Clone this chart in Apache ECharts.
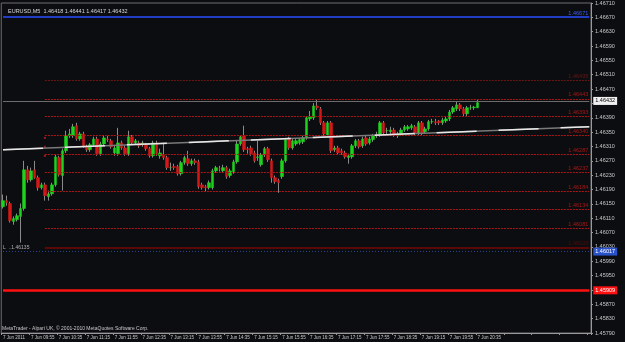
<!DOCTYPE html>
<html>
<head>
<meta charset="utf-8">
<script src="https://cdn.jsdelivr.net/npm/echarts@6.0.0/dist/echarts.min.js"></script>
<style>
  html, body { margin: 0; padding: 0; background: #0c0d10; }
  #chart { width: 625px; height: 342px; }
</style>
</head>
<body>
<div id="chart"></div>
<script>
// EURUSD M5, 7 Jun 2011 09:15 .. 20:35 (137 bars)
const opens = [
  1.46142,1.46159,1.46151,1.46101,1.46106,1.46115,1.46137,1.46245,1.46217,1.46245,
  1.46223,1.46195,1.46203,1.46170,1.46178,1.46203,1.46279,1.46229,1.46298,1.46340,
  1.46340,1.46368,1.46331,1.46345,1.46309,1.46301,1.46315,1.46331,1.46290,1.46317,
  1.46331,1.46326,1.46292,1.46290,1.46320,1.46306,1.46290,1.46337,1.46320,1.46320,
  1.46315,1.46315,1.46304,1.46284,1.46320,1.46284,1.46287,1.46279,1.46251,1.46254,
  1.46254,1.46234,1.46265,1.46276,1.46262,1.46270,1.46267,1.46203,1.46198,1.46195,
  1.46195,1.46242,1.46248,1.46242,1.46251,1.46229,1.46240,1.46267,1.46317,1.46340,
  1.46304,1.46306,1.46292,1.46279,1.46259,1.46287,1.46304,1.46270,1.46223,1.46215,
  1.46226,1.46270,1.46331,1.46306,1.46317,1.46320,1.46323,1.46334,1.46387,1.46390,
  1.46423,1.46415,1.46376,1.46342,1.46376,1.46301,1.46306,1.46298,1.46292,1.46279,
  1.46281,1.46312,1.46326,1.46312,1.46334,1.46320,1.46329,1.46340,1.46342,1.46376,
  1.46354,1.46351,1.46356,1.46340,1.46345,1.46356,1.46359,1.46362,1.46365,1.46348,
  1.46376,1.46351,1.46359,1.46379,1.46379,1.46381,1.46376,1.46381,1.46387,1.46406,
  1.46415,1.46426,1.46415,1.46401,1.46418,1.46418,1.46418
];
const closes = [
  1.46159,1.46154,1.46103,1.46109,1.46117,1.46137,1.46245,1.46217,1.46242,1.46223,
  1.46195,1.46203,1.46173,1.46178,1.46203,1.46281,1.46231,1.46298,1.46340,1.46345,
  1.46365,1.46331,1.46345,1.46312,1.46301,1.46315,1.46331,1.46290,1.46317,1.46334,
  1.46329,1.46309,1.46306,1.46320,1.46306,1.46290,1.46337,1.46320,1.46326,1.46312,
  1.46320,1.46304,1.46284,1.46320,1.46290,1.46292,1.46279,1.46251,1.46251,1.46251,
  1.46234,1.46265,1.46279,1.46262,1.46270,1.46265,1.46198,1.46195,1.46195,1.46209,
  1.46242,1.46251,1.46248,1.46251,1.46226,1.46242,1.46267,1.46317,1.46337,1.46301,
  1.46301,1.46290,1.46270,1.46281,1.46287,1.46304,1.46273,1.46223,1.46212,1.46209,
  1.46270,1.46329,1.46306,1.46326,1.46326,1.46329,1.46334,1.46390,1.46393,1.46423,
  1.46418,1.46376,1.46345,1.46376,1.46298,1.46306,1.46292,1.46292,1.46281,1.46284,
  1.46312,1.46326,1.46309,1.46331,1.46317,1.46331,1.46340,1.46342,1.46376,1.46348,
  1.46354,1.46356,1.46342,1.46345,1.46356,1.46365,1.46365,1.46368,1.46348,1.46376,
  1.46348,1.46359,1.46379,1.46379,1.46376,1.46376,1.46384,1.46387,1.46406,1.46418,
  1.46426,1.46415,1.46401,1.46418,1.46418,1.46420,1.46432
];
const lows = [
  1.46137,1.46145,1.46098,1.46092,1.46101,1.46042,1.46131,1.46209,1.46212,1.46220,
  1.46187,1.46190,1.46159,1.46159,1.46173,1.46198,1.46226,1.46187,1.46292,1.46334,
  1.46334,1.46326,1.46326,1.46306,1.46295,1.46295,1.46309,1.46284,1.46284,1.46312,
  1.46323,1.46304,1.46284,1.46284,1.46301,1.46284,1.46284,1.46315,1.46315,1.46306,
  1.46309,1.46298,1.46279,1.46279,1.46284,1.46276,1.46273,1.46245,1.46242,1.46245,
  1.46229,1.46229,1.46259,1.46256,1.46256,1.46259,1.46192,1.46190,1.46184,1.46190,
  1.46190,1.46237,1.46240,1.46237,1.46220,1.46223,1.46234,1.46262,1.46312,1.46295,
  1.46290,1.46284,1.46265,1.46270,1.46254,1.46281,1.46267,1.46209,1.46206,1.46181,
  1.46220,1.46265,1.46301,1.46301,1.46312,1.46315,1.46317,1.46329,1.46381,1.46384,
  1.46412,1.46370,1.46340,1.46337,1.46292,1.46295,1.46287,1.46287,1.46276,1.46262,
  1.46276,1.46306,1.46304,1.46306,1.46312,1.46315,1.46323,1.46334,1.46337,1.46342,
  1.46345,1.46345,1.46337,1.46334,1.46340,1.46351,1.46354,1.46356,1.46342,1.46342,
  1.46342,1.46345,1.46354,1.46373,1.46370,1.46370,1.46370,1.46376,1.46381,1.46401,
  1.46409,1.46409,1.46395,1.46395,1.46412,1.46412,1.46417
];
const highs = [
  1.46176,1.46173,1.46156,1.46115,1.46123,1.46151,1.46270,1.46256,1.46251,1.46270,
  1.46229,1.46209,1.46209,1.46187,1.46209,1.46287,1.46284,1.46304,1.46354,1.46359,
  1.46373,1.46376,1.46351,1.46351,1.46315,1.46320,1.46337,1.46337,1.46323,1.46342,
  1.46340,1.46331,1.46312,1.46362,1.46326,1.46312,1.46354,1.46342,1.46331,1.46326,
  1.46326,1.46320,1.46309,1.46326,1.46326,1.46304,1.46320,1.46284,1.46265,1.46262,
  1.46259,1.46270,1.46284,1.46298,1.46276,1.46276,1.46273,1.46209,1.46203,1.46215,
  1.46248,1.46256,1.46256,1.46259,1.46256,1.46248,1.46273,1.46326,1.46342,1.46368,
  1.46309,1.46312,1.46298,1.46326,1.46292,1.46309,1.46309,1.46276,1.46229,1.46220,
  1.46276,1.46334,1.46337,1.46331,1.46331,1.46334,1.46340,1.46395,1.46409,1.46431,
  1.46440,1.46420,1.46381,1.46381,1.46381,1.46312,1.46312,1.46304,1.46298,1.46290,
  1.46317,1.46331,1.46331,1.46337,1.46340,1.46337,1.46345,1.46351,1.46381,1.46381,
  1.46362,1.46365,1.46362,1.46351,1.46362,1.46370,1.46370,1.46373,1.46370,1.46381,
  1.46381,1.46365,1.46384,1.46387,1.46387,1.46384,1.46390,1.46393,1.46412,1.46423,
  1.46434,1.46431,1.46420,1.46423,1.46426,1.46423,1.46441
];

// time labels, one every 8 bars (40 min)
const tickLabels = [
  '7 Jun 2011','7 Jun 09:55','7 Jun 10:35','7 Jun 11:15','7 Jun 11:55','7 Jun 12:35',
  '7 Jun 13:15','7 Jun 13:55','7 Jun 14:35','7 Jun 15:15','7 Jun 15:55','7 Jun 16:35',
  '7 Jun 17:15','7 Jun 17:55','7 Jun 18:35','7 Jun 19:15','7 Jun 19:55','7 Jun 20:35'
];

// horizontal objects drawn on the chart
const blueLevel = 1.46671;
const dimLevel = 1.46495;
const redLevels = [1.46443, 1.46393, 1.46340, 1.46287, 1.46237, 1.46184, 1.46134, 1.46081];
const maroonLevel = 1.46028;
const bidLevel = 1.46437;
const lowBlueLevel = 1.46017;
const redThick = 1.45909;
const trendStart = [0, 1.46301];
const trendEnd = [168, 1.46365];
const markerTicks = [1.46334, 1.46309, 1.46284]; // little red marks at bar 12

const totalSlots = 169; // bars + empty right shift
const lastSlot = totalSlots - 1;
const categories = Array.from({ length: totalSlots }, (_, i) => String(i));

const wickData = opens.map((o, i) => [o, closes[i], lows[i], highs[i]]);
const bodyData = opens.map((o, i) => [o, closes[i], Math.min(o, closes[i]), Math.max(o, closes[i])]);

const FONT = 'Liberation Sans';
const smallTxt = { fontSize: 5.5, fontFamily: FONT };

// horizontal segment from a bar index to the right edge, price text above its end
function levelFrom(v, color, type, width, start) {
  return [
    { coord: [start, v], lineStyle: { color, type, width },
      label: { show: true, position: 'insideEndTop', formatter: v.toFixed(5), color, distance: 1, ...smallTxt } },
    { coord: [lastSlot, v] }
  ];
}
// full width line with a price box on the axis
function boxLine(v, color, type, width, boxBg, boxFg, text) {
  return [
    { coord: [0, v], lineStyle: { color, type, width },
      label: { show: true, position: 'end', formatter: text || v.toFixed(5), color: boxFg, backgroundColor: boxBg, padding: [1, 2], distance: 4, ...smallTxt } },
    { coord: [lastSlot, v] }
  ];
}

const lines = [];
lines.push([
  { coord: [0, blueLevel], lineStyle: { color: '#2a4cff', width: 1.6, type: 'solid' },
    label: { show: true, position: 'insideEndTop', formatter: blueLevel.toFixed(5), color: '#3a5cf0', distance: 1, ...smallTxt } },
  { coord: [lastSlot, blueLevel] }
]);
lines.push(levelFrom(dimLevel, '#6a1616', [2, 1], 1, 12));
redLevels.forEach(v => lines.push(levelFrom(v, '#a81616', [2, 1], 1, 12)));
lines.push(levelFrom(maroonLevel, '#5a0808', 'solid', 2, 12));
lines.push(boxLine(bidLevel, '#6c6c6c', 'solid', 1, '#f0f0f0', '#000', '1.46432'));
lines.push(boxLine(lowBlueLevel, '#2e4494', [1, 2], 1, '#2a52c8', '#fff'));
lines.push(boxLine(redThick, '#ff1010', 'solid', 2.5, '#ff1010', '#fff'));
// trend line: grey base + white dashes
lines.push([{ coord: trendStart, lineStyle: { color: '#7a7a7a', width: 1.5, type: 'solid' }, label: { show: false } }, { coord: trendEnd }]);
lines.push([{ coord: trendStart, lineStyle: { color: '#e8e8e8', width: 1.5, type: [40, 22] }, label: { show: false } }, { coord: trendEnd }]);

const chart = echarts.init(document.getElementById('chart'));
chart.setOption({
  animation: false,
  backgroundColor: '#0c0d10',
  title: {
    text: 'EURUSD,M5  1.46418 1.46441 1.46417 1.46432',
    left: 3, top: 3,
    textStyle: { color: '#d8d8d8', fontWeight: 'normal', ...smallTxt }
  },
  graphic: [
    { type: 'text', left: 2, top: 326,
      style: { text: 'MetaTrader - Alpari UK, \u00a9 2001-2010 MetaQuotes Software Corp.', fill: '#c8c8c8', font: '5px ' + FONT } },
    { type: 'text', left: 3, top: 245,
      style: { text: 'L  ..1.46135', fill: '#b0b0b0', font: '5px ' + FONT } }
  ],
  grid: { left: 1, right: 34, top: 2, bottom: 9, show: true, borderColor: '#6e6e6e', borderWidth: 1 },
  xAxis: {
    type: 'category',
    data: categories,
    boundaryGap: true,
    axisLine: { lineStyle: { color: '#9a9a9a' } },
    axisTick: { show: true, interval: 7, length: 2, lineStyle: { color: '#9a9a9a' } },
    axisLabel: {
      interval: 7, align: 'left', margin: 2, color: '#c8c8c8', fontSize: 4.5, fontFamily: FONT,
      formatter: (v, idx) => tickLabels[idx / 8] || ''
    },
    splitLine: { show: false }
  },
  yAxis: {
    type: 'value',
    position: 'right',
    min: 1.4579, max: 1.4671, interval: 0.0004,
    axisLine: { show: true, lineStyle: { color: '#9a9a9a' } },
    axisTick: { show: true, length: 2, lineStyle: { color: '#9a9a9a' } },
    axisLabel: { margin: 4, color: '#c8c8c8', fontSize: 5.5, fontFamily: FONT, formatter: v => v.toFixed(5) },
    splitLine: { show: false }
  },
  series: [
    {
      name: 'wicks', type: 'candlestick', data: wickData, barWidth: 1,
      itemStyle: { color: '#8a8a8a', color0: '#8a8a8a', borderColor: '#8a8a8a', borderColor0: '#8a8a8a', borderWidth: 1 },
      markLine: { silent: true, symbol: 'none', data: lines }
    },
    {
      name: 'bodies', type: 'candlestick', data: bodyData, barWidth: 3,
      itemStyle: { color: '#1ed21e', color0: '#d41818', borderColor: '#1ed21e', borderColor0: '#d41818', borderWidth: 0.5 }
    },
    {
      name: 'marks', type: 'scatter', symbol: 'rect', symbolSize: [2, 2], silent: true,
      itemStyle: { color: '#c02020' },
      data: markerTicks.map(v => [12, v])
    }
  ]
});
</script>
</body>
</html>
